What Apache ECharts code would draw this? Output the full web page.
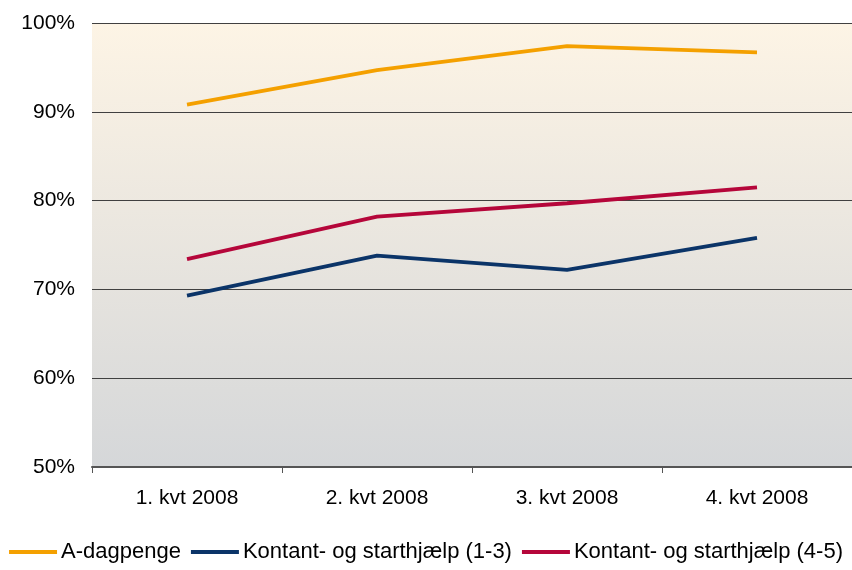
<!DOCTYPE html>
<html><head><meta charset="utf-8">
<script src="https://cdn.jsdelivr.net/npm/echarts@6/dist/echarts.min.js"></script>
<style>html,body{margin:0;padding:0;background:#fff}#c{width:852px;height:570px}</style>
</head><body><div id="c"></div>
<script>
var categories = ['1. kvt 2008', '2. kvt 2008', '3. kvt 2008', '4. kvt 2008'];
var aDagpenge = [90.8, 94.7, 97.4, 96.7];
var kontant13 = [69.3, 73.8, 72.2, 75.8];
var kontant45 = [73.4, 78.2, 79.7, 81.5];
var seriesNames = ['A-dagpenge', 'Kontant- og starthjælp (1-3)', 'Kontant- og starthjælp (4-5)'];
var colors = ['#F4A000', '#0B3468', '#B5063A'];

var chart = echarts.init(document.getElementById('c'), null, {renderer: 'canvas'});
var font = 'Liberation Sans, Arial, sans-serif';
function mk(name, data, color) {
  return {name: name, type: 'line', data: data, symbol: 'none', smooth: false,
    lineStyle: {color: color, width: 3.8}, itemStyle: {color: color}};
}
chart.setOption({
  animation: false,
  grid: {left: 92, right: 0, top: 23, bottom: 103, containLabel: false,
    show: true, borderWidth: 0,
    backgroundColor: new echarts.graphic.LinearGradient(0, 0, 0, 1, [
      {offset: 0, color: '#FDF4E5'}, {offset: 1, color: '#D5D7D9'}])},
  legend: {
    bottom: 2, left: 'center', itemGap: 10, itemWidth: 48, itemHeight: 4,
    icon: 'rect',
    textStyle: {fontFamily: font, fontSize: 22, color: '#000', padding: [0, 0, 0, -1]},
    data: seriesNames
  },
  xAxis: {
    type: 'category', data: categories, boundaryGap: true,
    axisLine: {lineStyle: {color: '#555', width: 2}},
    axisTick: {show: true, length: 6, lineStyle: {color: '#555', width: 1}},
    axisLabel: {fontFamily: font, fontSize: 21, color: '#000', margin: 21}
  },
  yAxis: {
    type: 'value', min: 50, max: 100, interval: 10,
    axisLine: {show: false}, axisTick: {show: false},
    splitLine: {lineStyle: {color: '#404040', width: 1}},
    axisLabel: {fontFamily: font, fontSize: 21, color: '#000', margin: 17,
      formatter: function (v) { return v + '%'; }}
  },
  series: [
    mk(seriesNames[0], aDagpenge, colors[0]),
    mk(seriesNames[1], kontant13, colors[1]),
    mk(seriesNames[2], kontant45, colors[2])
  ]
});
</script></body></html>
